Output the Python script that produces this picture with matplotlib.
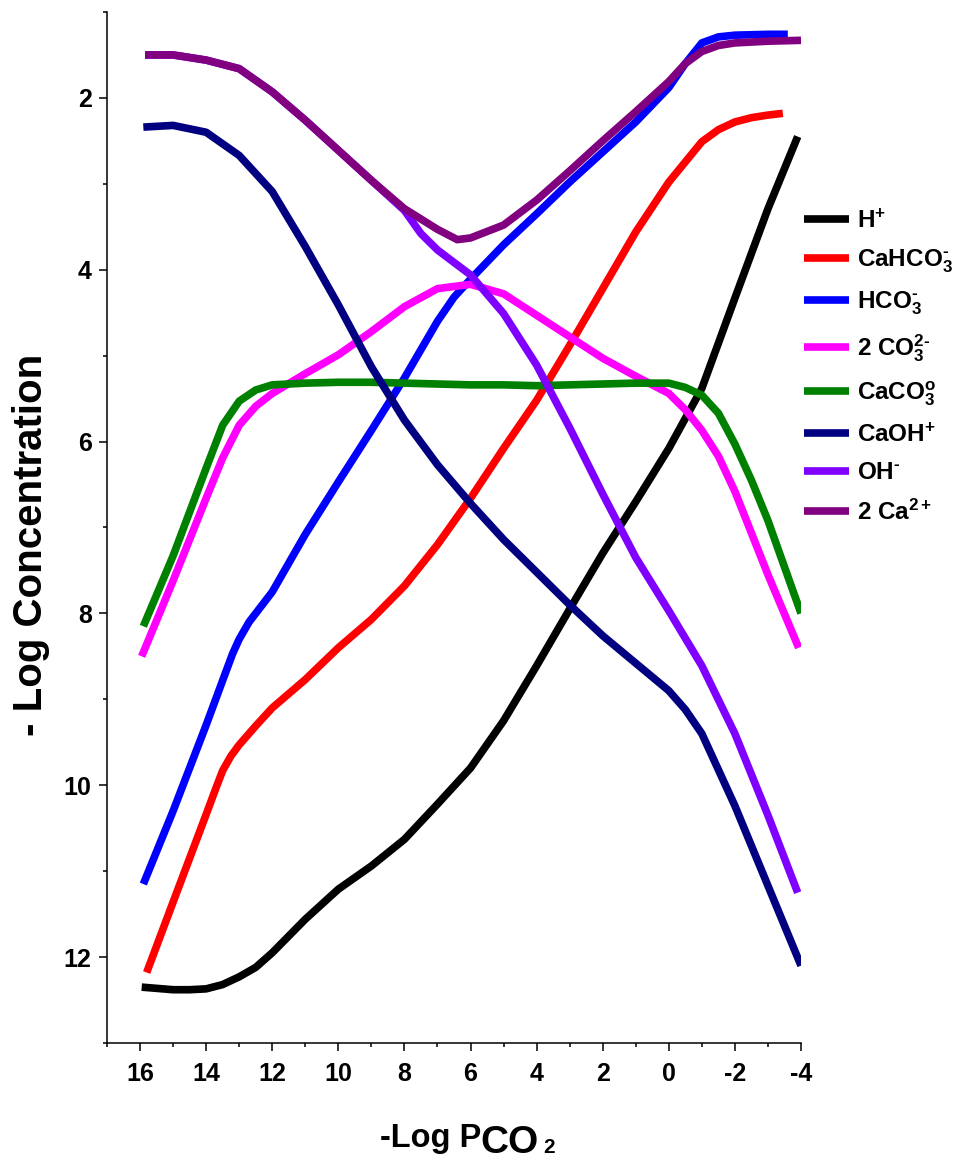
import matplotlib
matplotlib.use('Agg')
import matplotlib.pyplot as plt
from matplotlib.ticker import MultipleLocator

plt.rcParams['font.family'] = 'Liberation Sans'
plt.rcParams['font.weight'] = 'bold'
plt.rcParams['mathtext.fontset'] = 'custom'
plt.rcParams['mathtext.rm'] = 'Liberation Sans:bold'
plt.rcParams['mathtext.it'] = 'Liberation Sans:bold'
plt.rcParams['mathtext.bf'] = 'Liberation Sans:bold'
plt.rcParams['mathtext.sf'] = 'Liberation Sans:bold'
plt.rcParams['mathtext.default'] = 'bf'
plt.rcParams['axes.unicode_minus'] = False

# -Log Pco2 (x) and -Log concentration (y)
h_x = [15.95, 15, 14.5, 14, 13.5, 13, 12.5, 12, 11, 10, 9, 8, 7, 6, 5, 4, 3, 2, 1, 0, -1, -2, -3, -3.9]
h_y = [12.35, 12.38, 12.38, 12.37, 12.32, 12.23, 12.12, 11.95, 11.56, 11.21, 10.94, 10.63, 10.22,
       9.80, 9.25, 8.61, 7.95, 7.30, 6.70, 6.08, 5.38, 4.33, 3.29, 2.45]

cahco3_x = [15.8, 15, 14, 13.7, 13.5, 13.25, 13, 12.5, 12, 11, 10, 9, 8, 7, 6, 5, 4, 3, 2, 1, 0, -1, -1.5,
            -2, -2.5, -3, -3.45]
cahco3_y = [12.18, 11.36, 10.34, 10.03, 9.83, 9.66, 9.53, 9.31, 9.10, 8.77, 8.40, 8.07, 7.68, 7.20, 6.66,
            6.08, 5.52, 4.88, 4.22, 3.56, 2.98, 2.51, 2.37, 2.28, 2.23, 2.20, 2.18]

hco3_x = [15.9, 15, 14, 13.5, 13.2, 13, 12.7, 12.5, 12, 11, 10, 9, 8, 7, 6.5, 6, 5, 4, 3, 2, 1, 0, -0.5, -1,
          -1.5, -2, -3, -3.6]
hco3_y = [11.15, 10.30, 9.30, 8.78, 8.47, 8.30, 8.10, 8.00, 7.75, 7.08, 6.47, 5.87, 5.26, 4.60, 4.32, 4.11,
          3.71, 3.35, 2.98, 2.63, 2.28, 1.88, 1.60, 1.36, 1.29, 1.27, 1.26, 1.26]

co3_x = [15.95, 15, 14, 13.5, 13, 12.5, 12, 11, 10, 9, 8, 7, 6, 5, 4, 3, 2, 1, 0, -0.5, -1, -1.5, -2, -3,
         -3.93]
co3_y = [8.50, 7.62, 6.66, 6.19, 5.81, 5.59, 5.44, 5.21, 4.99, 4.72, 4.43, 4.22, 4.17, 4.28, 4.53, 4.78,
         5.03, 5.24, 5.44, 5.63, 5.87, 6.17, 6.58, 7.55, 8.40]

caco3_x = [15.9, 15, 14, 13.5, 13, 12.5, 12, 11, 10, 9, 8, 7, 6, 5, 4, 3, 2, 1, 0, -0.5, -1, -1.5, -2,
           -2.5, -3, -4]
caco3_y = [8.15, 7.33, 6.31, 5.81, 5.53, 5.40, 5.34, 5.32, 5.31, 5.31, 5.32, 5.33, 5.34, 5.34, 5.35, 5.34,
           5.33, 5.32, 5.32, 5.37, 5.46, 5.67, 6.03, 6.45, 6.92, 8.00]

caoh_x = [15.9, 15, 14, 13, 12, 11, 10, 9, 8, 7, 6, 5, 4, 3, 2, 1, 0, -0.5, -1, -1.5, -2, -3, -4]
caoh_y = [2.34, 2.32, 2.40, 2.67, 3.09, 3.73, 4.41, 5.13, 5.75, 6.27, 6.72, 7.14, 7.52, 7.90, 8.26, 8.58,
          8.90, 9.12, 9.40, 9.82, 10.24, 11.17, 12.10]

oh_x = [15.85, 15, 14, 13, 12, 11, 10, 9, 8, 7.5, 7, 6, 5, 4, 3, 2, 1, 0, -1, -2, -3, -3.9]
oh_y = [1.50, 1.50, 1.56, 1.66, 1.93, 2.26, 2.61, 2.96, 3.31, 3.58, 3.77, 4.06, 4.51, 5.11, 5.84, 6.61,
        7.35, 7.97, 8.61, 9.40, 10.35, 11.25]

ca_x = [15.85, 15, 14, 13, 12, 11, 10, 9, 8, 7, 6.4, 6, 5, 4, 3, 2, 1, 0, -0.5, -1, -1.5, -2, -3, -4]
ca_y = [1.50, 1.50, 1.56, 1.66, 1.93, 2.26, 2.61, 2.96, 3.29, 3.53, 3.65, 3.63, 3.48, 3.19, 2.85, 2.50,
        2.16, 1.81, 1.60, 1.46, 1.39, 1.36, 1.34, 1.33]

labels = ['H$^{+}$', 'CaHCO$_3^{\u2010}$', 'HCO$_3^{\u2010}$', '2 CO$_3^{2\u2010}$', 'CaCO$_3^{o}$',
          'CaOH$^{+}$', 'OH$^{\u2010}$', '2 Ca$^{2+}$']
colors = ['#000000', '#FF0000', '#0000FF', '#FF00FF', '#008000', '#000080', '#8000FF', '#800080']
series = [(h_x, h_y), (cahco3_x, cahco3_y), (hco3_x, hco3_y), (co3_x, co3_y),
          (caco3_x, caco3_y), (caoh_x, caoh_y), (oh_x, oh_y), (ca_x, ca_y)]

x_ticks = [16, 14, 12, 10, 8, 6, 4, 2, 0, -2, -4]
y_ticks = [2, 4, 6, 8, 10, 12]

fig = plt.figure(figsize=(9.57, 11.63), dpi=100)
ax = fig.add_axes([0.1118, 0.1032, 0.7252, 0.8865])

for (xs, ys), c, lab in zip(series, colors, labels):
    ax.plot(xs, ys, color=c, lw=5.5, label=lab, solid_capstyle='butt', solid_joinstyle='round')

ax.set_xlim(17, -4)
ax.set_ylim(13, 1)
ax.set_xticks(x_ticks)
ax.set_xticklabels([str(t) for t in x_ticks])
ax.set_yticks(y_ticks)
ax.xaxis.set_minor_locator(MultipleLocator(1))
ax.yaxis.set_minor_locator(MultipleLocator(1))
ax.tick_params(which='major', direction='out', length=6, width=1.1, labelsize=18, pad=5)
ax.tick_params(axis='x', which='major', pad=8)
ax.tick_params(which='minor', direction='out', length=3, width=1.1)
for lab in ax.get_xticklabels() + ax.get_yticklabels():
    lab.set_fontweight('bold')

ax.spines['top'].set_visible(False)
ax.spines['right'].set_visible(False)
ax.spines['left'].set_linewidth(1.1)
ax.spines['bottom'].set_linewidth(1.1)

ax.set_ylabel('- Log Concentration', fontsize=29, fontweight='bold')
ax.yaxis.set_label_coords(-0.082, 0.483)

# x label: -Log P with CO2 subscript
fig.text(380 / 957, 16 / 1163, '-Log P', fontsize=23.5, fontweight='bold', va='baseline', ha='left')
fig.text(480 / 957, 10 / 1163, 'CO', fontsize=28, fontweight='bold', va='baseline', ha='left')
fig.text(543 / 957, 10 / 1163, '2', fontsize=15, fontweight='bold', va='baseline', ha='left')

ax.legend(loc='upper left', bbox_to_anchor=(804 / 957, 1 - 209 / 1163), bbox_transform=fig.transFigure,
          frameon=False, prop={'size': 17.5, 'weight': 'bold'}, handlelength=1.85,
          handletextpad=0.33, labelspacing=0.62, borderpad=0, borderaxespad=0)

fig.savefig('out.png', dpi=100)
